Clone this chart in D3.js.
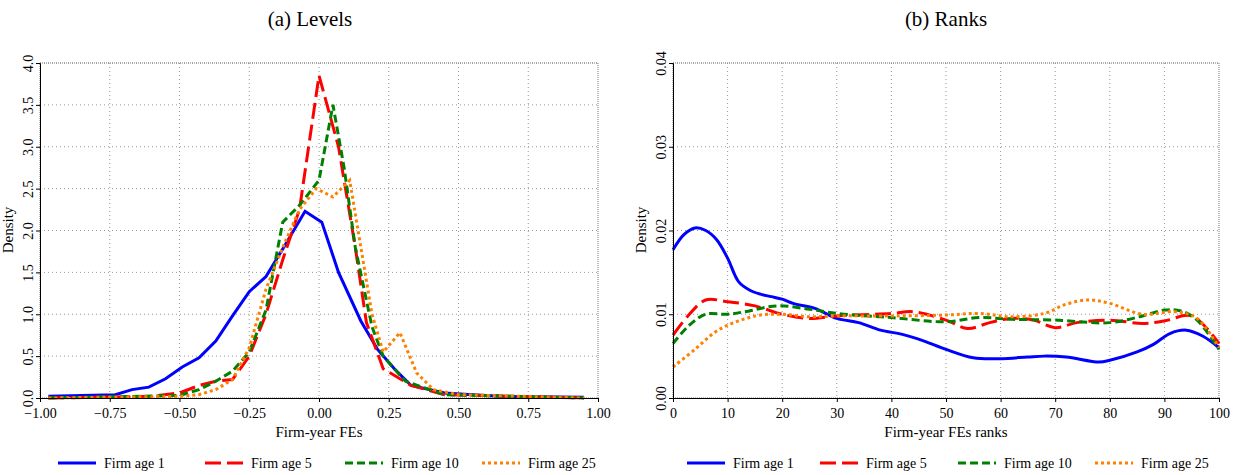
<!DOCTYPE html>
<html><head><meta charset="utf-8">
<script src="https://cdn.jsdelivr.net/npm/d3@7"></script>
<style>body{margin:0;background:#fff}svg text{font-family:'Liberation Serif','Times New Roman','DejaVu Serif',serif}</style>
</head><body><div id="chart"></div>
<script>
// Datos (x, densidad)
const levelsAge1 = [[-0.97,0.02],[-0.73,0.04],[-0.67,0.1],[-0.61,0.13],[-0.55,0.23],[-0.49,0.37],[-0.43,0.48],[-0.37,0.68],[-0.31,0.98],[-0.25,1.27],[-0.19,1.45],[-0.13,1.78],[-0.05,2.23],[0.01,2.1],[0.07,1.5],[0.15,0.92],[0.21,0.58],[0.27,0.35],[0.33,0.15],[0.45,0.06],[0.55,0.04],[0.65,0.02],[0.95,0.01]];
const levelsAge5 = [[-0.97,0],[-0.6,0.02],[-0.5,0.06],[-0.43,0.15],[-0.37,0.2],[-0.31,0.22],[-0.25,0.5],[-0.19,1.0],[-0.13,1.65],[-0.07,2.25],[0.0,3.85],[0.07,3.0],[0.13,1.8],[0.17,0.9],[0.23,0.35],[0.33,0.15],[0.45,0.04],[0.95,0]];
const levelsAge10 = [[-0.97,0],[-0.5,0.03],[-0.43,0.1],[-0.37,0.2],[-0.31,0.32],[-0.25,0.55],[-0.19,1.05],[-0.13,2.1],[-0.07,2.3],[0.0,2.6],[0.05,3.5],[0.09,2.75],[0.13,1.8],[0.19,0.85],[0.23,0.5],[0.31,0.2],[0.37,0.13],[0.45,0.04],[0.95,0]];
const levelsAge25 = [[-0.97,0],[-0.5,0.02],[-0.43,0.04],[-0.37,0.1],[-0.31,0.22],[-0.25,0.6],[-0.19,1.3],[-0.13,1.8],[-0.07,2.25],[-0.01,2.5],[0.05,2.4],[0.11,2.6],[0.15,1.8],[0.19,1.0],[0.23,0.55],[0.29,0.78],[0.35,0.3],[0.41,0.1],[0.5,0.04],[0.95,0]];

const ranksAge1 = [[0,0.0177],[2,0.0195],[4,0.0203],[6,0.0200],[8,0.0189],[10,0.0167],[12,0.0139],[14,0.0129],[16,0.0124],[18,0.0121],[20,0.0118],[22,0.0113],[26,0.0107],[30,0.0095],[34,0.0090],[38,0.0081],[42,0.0076],[46,0.0068],[50,0.0058],[55,0.0048],[60,0.0047],[65,0.0049],[68,0.0050],[72,0.0049],[78,0.0043],[80,0.0045],[85,0.0055],[88,0.0064],[91,0.0077],[94,0.0081],[97,0.0074],[100,0.0060]];
const ranksAge5 = [[0,0.0075],[3,0.0100],[6,0.0117],[10,0.0115],[15,0.0110],[20,0.0100],[25,0.0095],[30,0.0098],[40,0.0101],[44,0.0103],[50,0.0093],[54,0.0083],[58,0.0090],[62,0.0095],[66,0.0093],[70,0.0084],[74,0.0090],[80,0.0093],[86,0.0089],[90,0.0092],[95,0.0098],[100,0.0065]];
const ranksAge10 = [[0,0.0065],[3,0.0087],[6,0.0100],[10,0.0100],[14,0.0104],[19,0.0110],[25,0.0106],[30,0.0101],[40,0.0096],[50,0.0091],[56,0.0096],[62,0.0094],[70,0.0093],[80,0.0090],[86,0.0098],[90,0.0105],[93,0.0104],[96,0.0093],[100,0.0058]];
const ranksAge25 = [[0,0.0037],[4,0.0058],[8,0.0080],[12,0.0092],[16,0.0099],[20,0.0100],[25,0.0097],[30,0.0098],[40,0.0098],[50,0.0099],[56,0.0101],[62,0.0097],[68,0.0101],[72,0.0112],[76,0.0117],[80,0.0113],[86,0.0100],[92,0.0103],[96,0.0095],[100,0.0060]];

const seriesNames = ['Firm age 1','Firm age 5','Firm age 10','Firm age 25'];
const levelsXTicks = [-1,-0.75,-0.5,-0.25,0,0.25,0.5,0.75,1];
const levelsYTicks = [0,0.5,1,1.5,2,2.5,3,3.5,4];
const ranksXTicks = d3.range(0,101,10);
const ranksYTicks = [0,0.01,0.02,0.03,0.04];

const styles = [
  {color:'#0000ff', dash:null, w:3},
  {color:'#ff0000', dash:'16,6', w:3},
  {color:'#008000', dash:'8,4', w:3},
  {color:'#ff8000', dash:'3,3', w:3}
];

const svg = d3.select('#chart').append('svg').attr('width',1242).attr('height',475);

function panel(opt){
  const x = d3.scaleLinear().domain(opt.xd).range([opt.x0,opt.x1]);
  const y = d3.scaleLinear().domain(opt.yd).range([398,63]);
  const g = svg.append('g');

  // Rejilla punteada
  g.selectAll('.vg').data(opt.xt.slice(1,-1)).enter().append('line')
    .attr('x1',d=>x(d)).attr('x2',d=>x(d)).attr('y1',63).attr('y2',398)
    .attr('stroke','#999').attr('stroke-dasharray','1,3');
  g.selectAll('.hg').data(opt.yt.slice(1)).enter().append('line')
    .attr('x1',opt.x0).attr('x2',opt.x1).attr('y1',d=>y(d)).attr('y2',d=>y(d))
    .attr('stroke','#999').attr('stroke-dasharray','1,3');
  g.append('rect').attr('x',opt.x0).attr('y',63).attr('width',opt.x1-opt.x0).attr('height',335)
    .attr('fill','none').attr('stroke','#777').attr('stroke-dasharray','1,1');

  const line = d3.line().x(d=>x(d[0])).y(d=>y(d[1])).curve(opt.curve);
  opt.data.forEach((s,i)=>{
    g.append('path').datum(s).attr('d',line).attr('fill','none')
      .attr('stroke',styles[i].color).attr('stroke-width',styles[i].w)
      .attr('stroke-dasharray',styles[i].dash);
  });

  const ax = g.append('g').attr('transform','translate(0,398)')
    .call(d3.axisBottom(x).tickValues(opt.xt).tickFormat(opt.xf).tickSizeOuter(0).tickSize(4));
  const ay = g.append('g').attr('transform',`translate(${opt.x0},0)`)
    .call(d3.axisLeft(y).tickValues(opt.yt).tickFormat(opt.yf).tickSizeOuter(0).tickSize(4));
  [ax,ay].forEach(a=>{a.select('.domain').attr('stroke','#000');
    a.selectAll('text').attr('font-family',null).attr('font-size',14).attr('fill','#000');});
  ay.selectAll('text').attr('transform','rotate(-90)')
    .attr('text-anchor','middle').attr('dy','0').attr('x',0).attr('y',-7);
  ax.selectAll('text').attr('dy','0.9em');

  svg.append('text').attr('x',(opt.x0+opt.x1)/2).attr('y',437).attr('text-anchor','middle')
    .attr('font-size',15).text(opt.xlabel);
  svg.append('text').attr('transform',`translate(${opt.x0-27},230) rotate(-90)`).attr('text-anchor','middle')
    .attr('font-size',15).text('Density');
  svg.append('text').attr('x',opt.tx).attr('y',26).attr('text-anchor','middle')
    .attr('font-size',21).text(opt.title);

  // Leyenda
  opt.legend.forEach((lx,i)=>{
    svg.append('line').attr('x1',lx).attr('x2',lx+38).attr('y1',463).attr('y2',463)
      .attr('stroke',styles[i].color).attr('stroke-width',3).attr('stroke-dasharray',styles[i].dash);
    svg.append('text').attr('x',lx+46).attr('y',468).attr('font-size',14).text(seriesNames[i]);
  });
}

panel({x0:40,x1:598,xd:[-1,1],yd:[0,4],xt:levelsXTicks,yt:levelsYTicks,
  xf:d3.format('.2f'),yf:d3.format('.1f'),curve:d3.curveLinear,
  data:[levelsAge1,levelsAge5,levelsAge10,levelsAge25],xlabel:'Firm-year FEs',
  title:'(a) Levels',tx:310,legend:[58,205,345,482]});
panel({x0:673,x1:1219,xd:[0,100],yd:[0,0.04],xt:ranksXTicks,yt:ranksYTicks,
  xf:d3.format('d'),yf:d3.format('.2f'),curve:d3.curveCatmullRom,
  data:[ranksAge1,ranksAge5,ranksAge10,ranksAge25],xlabel:'Firm-year FEs ranks',
  title:'(b) Ranks',tx:946,legend:[687,820,958,1095]});
</script></body></html>
